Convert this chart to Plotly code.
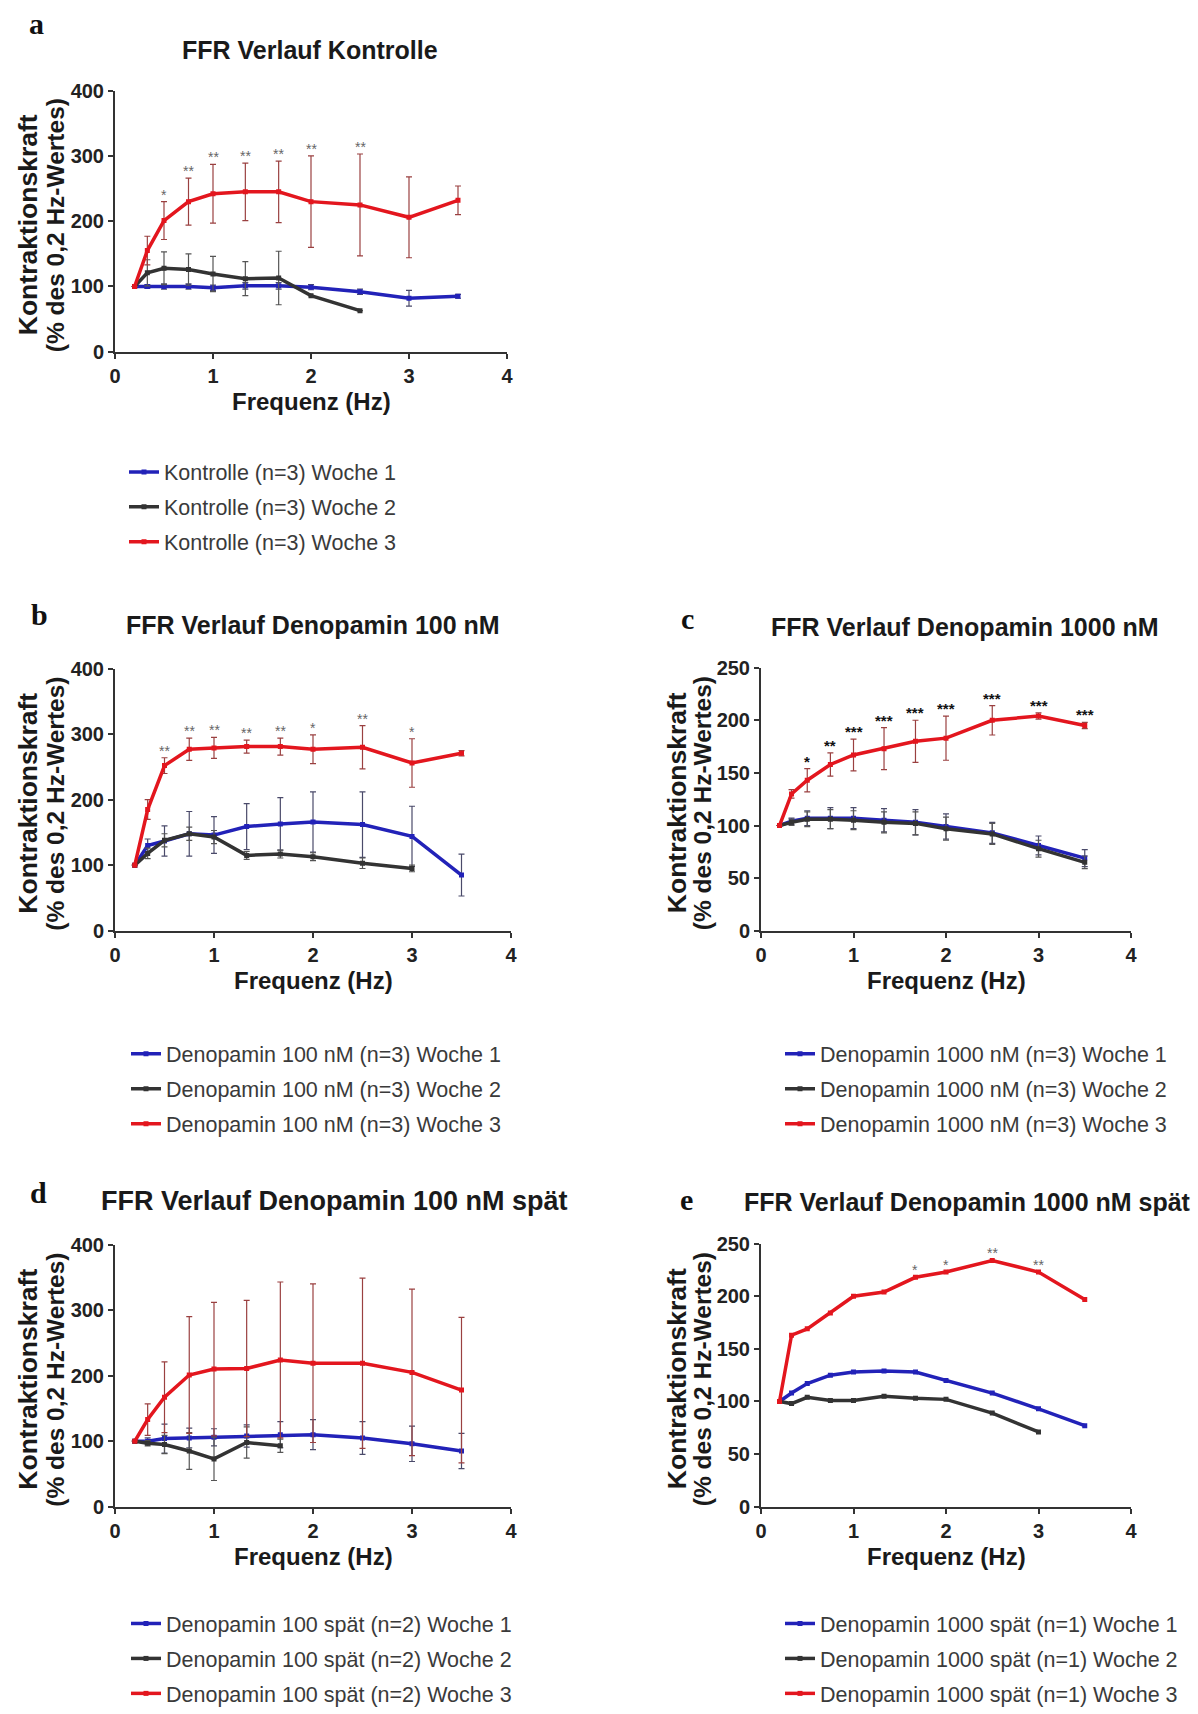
import plotly.graph_objects as go

W, H = 1198, 1714

# ---------------- data ----------------
freq = [0.2, 0.33, 0.5, 0.75, 1.0, 1.33, 1.67, 2.0, 2.5, 3.0, 3.5]
weeks = ["Woche 1", "Woche 2", "Woche 3"]

# a: Kontrolle
a_w1 = [100, 100, 100, 100, 98, 101, 101, 99, 92, 82, 85]
a_w1_err = [0, 3, 4, 4, 4, 5, 5, 4, 4, 12, 3]
a_w2 = [100, 121, 128, 126, 119, 112, 113, 86, 63, None, None]
a_w2_err = [0, 20, 25, 24, 27, 26, 41, 0, 0, None, None]
a_w3 = [100, 155, 201, 230, 242, 245, 245, 230, 225, 206, 232]
a_w3_err = [0, 22, 29, 36, 45, 44, 47, 70, 78, 62, 22]
a_sig = ["", "", "*", "**", "**", "**", "**", "**", "**", "", ""]

# b: Denopamin 100 nM
b_w1 = [100, 130, 137, 148, 146, 159, 163, 166, 162, 144, 85]
b_w1_err = [0, 10, 23, 34, 28, 35, 40, 46, 50, 46, 32]
b_w2 = [100, 118, 138, 148, 143, 115, 117, 113, 103, 95, None]
b_w2_err = [0, 8, 10, 10, 10, 6, 6, 6, 8, 5, None]
b_w3 = [100, 185, 252, 277, 279, 281, 281, 277, 280, 256, 271]
b_w3_err = [0, 15, 12, 17, 16, 10, 13, 22, 33, 37, 4]
b_sig = ["", "", "**", "**", "**", "**", "**", "*", "**", "*", ""]

# c: Denopamin 1000 nM
c_w1 = [100, 104, 107, 107, 107, 105, 103, 99, 93, 81, 69]
c_w1_err = [0, 3, 7, 10, 10, 11, 12, 12, 10, 9, 8]
c_w2 = [100, 103, 106, 106, 105, 103, 102, 97, 92, 78, 65]
c_w2_err = [0, 3, 7, 9, 9, 10, 11, 11, 10, 8, 6]
c_w3 = [100, 130, 143, 158, 167, 173, 180, 183, 200, 204, 195]
c_w3_err = [0, 4, 11, 11, 15, 20, 20, 21, 14, 3, 3]
c_sig = ["", "", "*", "**", "***", "***", "***", "***", "***", "***", "***"]

# d: Denopamin 100 nM spät
d_w1 = [100, 100, 104, 105, 106, 108, 110, 110, 105, 96, 85]
d_w1_err = [0, 5, 22, 15, 13, 17, 20, 23, 25, 27, 27]
d_w2 = [100, 97, 95, 85, 73, 98, 93, None, None, None, None]
d_w2_err = [0, 4, 14, 28, 33, 24, 10, None, None, None, None]
d_w3 = [100, 133, 167, 201, 210, 211, 224, 219, 219, 205, 178]
d_w3_err = [0, 24, 54, 89, 102, 104, 119, 121, 130, 127, 111]
d_sig = [""] * 11

# e: Denopamin 1000 nM spät (n=1, no error bars)
e_w1 = [100, 108, 117, 125, 128, 129, 128, 120, 108, 93, 77]
e_w2 = [100, 98, 104, 101, 101, 105, 103, 102, 89, 71, None]
e_w3 = [100, 163, 169, 184, 200, 204, 218, 223, 234, 223, 197]
e_sig = ["", "", "", "", "", "", "*", "*", "**", "**", ""]

panels = [
    dict(letter="a", title="FFR Verlauf Kontrolle", label="Kontrolle (n=3)",
         series=[(a_w1, a_w1_err), (a_w2, a_w2_err), (a_w3, a_w3_err)], sig=a_sig,
         ymax=400, dtick=100, xpx=(115, 507), ypx=(91, 353),
         letter_pos=(36, 24), title_pos=(310, 50), title_size=25, ytitle_x=(28, 55),
         leg_pos=(124, 453), sigstyle="light"),
    dict(letter="b", title="FFR Verlauf Denopamin 100 nM", label="Denopamin 100 nM (n=3)",
         series=[(b_w1, b_w1_err), (b_w2, b_w2_err), (b_w3, b_w3_err)], sig=b_sig,
         ymax=400, dtick=100, xpx=(115, 511), ypx=(671, 934),
         letter_pos=(39, 617), title_pos=(313, 627), title_size=25, ytitle_x=(28, 56),
         leg_pos=(126, 1037), sigstyle="light"),
    dict(letter="c", title="FFR Verlauf Denopamin 1000 nM", label="Denopamin 1000 nM (n=3)",
         series=[(c_w1, c_w1_err), (c_w2, c_w2_err), (c_w3, c_w3_err)], sig=c_sig,
         ymax=250, dtick=50, xpx=(761, 1131), ypx=(670, 934),
         letter_pos=(687, 621), title_pos=(965, 629), title_size=25, ytitle_x=(677, 702),
         leg_pos=(780, 1037), sigstyle="bold"),
    dict(letter="d", title="FFR Verlauf Denopamin 100 nM spät", label="Denopamin 100 spät (n=2)",
         series=[(d_w1, d_w1_err), (d_w2, d_w2_err), (d_w3, d_w3_err)], sig=d_sig,
         ymax=400, dtick=100, xpx=(115, 511), ypx=(1249, 1512),
         letter_pos=(38, 1197), title_pos=(334, 1205), title_size=27, ytitle_x=(28, 56),
         leg_pos=(126, 1609), sigstyle="light"),
    dict(letter="e", title="FFR Verlauf Denopamin 1000 nM spät", label="Denopamin 1000 spät (n=1)",
         series=[(e_w1, None), (e_w2, None), (e_w3, None)], sig=e_sig,
         ymax=250, dtick=50, xpx=(761, 1131), ypx=(1248, 1512),
         letter_pos=(686, 1204), title_pos=(967, 1206), title_size=25, ytitle_x=(677, 702),
         leg_pos=(780, 1609), sigstyle="light"),
]

colors = ["#2222b8", "#333333", "#e3161e"]
errcolors = ["#4a4a6a", "#555555", "#9a4040"]

FONT = "Liberation Sans, Arial, sans-serif"
SERIF = "Liberation Serif, Times New Roman, serif"


def px_x(p):
    return p / W


def px_y(p):
    return 1 - p / H


fig = go.Figure()
annotations = []
layout = {}

for i, p in enumerate(panels):
    n = "" if i == 0 else str(i + 1)
    xa, ya = "x" + n, "y" + n
    leg = "legend" + n
    for k, (vals, err) in enumerate(p["series"]):
        tr = dict(
            x=freq, y=vals, mode="lines+markers", name=f"{p['label']} {weeks[k]}",
            line=dict(color=colors[k], width=3.5),
            marker=dict(color=colors[k], size=5, symbol="square"),
            xaxis=xa, yaxis=ya, legend=leg, legendgroup=f"{p['letter']}{k}",
            connectgaps=False, hoverinfo="x+y",
        )
        if err is not None:
            tr["error_y"] = dict(type="data", array=err, visible=True,
                                 thickness=1.2, width=3, color=errcolors[k])
        fig.add_trace(go.Scatter(**tr))

    # significance markers above red series
    red_vals, red_err = p["series"][2]
    for j, s in enumerate(p["sig"]):
        if not s:
            continue
        top = red_vals[j] + (red_err[j] if red_err is not None else 0)
        bold = p["sigstyle"] == "bold"
        annotations.append(dict(
            x=freq[j], y=top, xref=xa, yref=ya, text=s, showarrow=False,
            yanchor="bottom", xanchor="center", yshift=-3,
            font=dict(family=FONT, size=15 if bold else 14,
                      color="#111111" if bold else "#666666",
                      weight="bold" if bold else "normal")))

    axis_common = dict(showline=True, linecolor="#333333", linewidth=2,
                       ticks="outside", ticklen=5, tickwidth=2, tickcolor="#333333",
                       showgrid=False, zeroline=False, automargin=False,
                       tickfont=dict(family=FONT, size=20, color="#222222", weight="bold"))
    layout["xaxis" + n] = dict(axis_common, domain=[px_x(p["xpx"][0]), px_x(p["xpx"][1])],
                               range=[0, 4], tickvals=[0, 1, 2, 3, 4], anchor=ya)
    layout["yaxis" + n] = dict(axis_common, domain=[px_y(p["ypx"][1]), px_y(p["ypx"][0])],
                               range=[0, p["ymax"]], dtick=p["dtick"], tick0=0, anchor=xa)

    layout[leg] = dict(x=px_x(p["leg_pos"][0]), y=px_y(p["leg_pos"][1]),
                       xanchor="left", yanchor="top", bgcolor="rgba(0,0,0,0)",
                       font=dict(family=FONT, size=21.5, color="#3a3a3a"),
                       tracegroupgap=4, traceorder="grouped", itemwidth=30)

    # panel letter
    annotations.append(dict(x=px_x(p["letter_pos"][0]), y=px_y(p["letter_pos"][1]),
                            xref="paper", yref="paper", text=p["letter"], showarrow=False,
                            xanchor="center", yanchor="middle",
                            font=dict(family=SERIF, size=30, color="#111111", weight="bold")))
    # panel title
    annotations.append(dict(x=px_x(p["title_pos"][0]), y=px_y(p["title_pos"][1]),
                            xref="paper", yref="paper", text=p["title"], showarrow=False,
                            xanchor="center", yanchor="middle",
                            font=dict(family=FONT, size=p["title_size"], color="#1a1a1a",
                                      weight="bold")))
    # x axis title
    xc = (p["xpx"][0] + p["xpx"][1]) / 2
    annotations.append(dict(x=px_x(xc), y=px_y(p["ypx"][1] + 50),
                            xref="paper", yref="paper", text="Frequenz (Hz)", showarrow=False,
                            xanchor="center", yanchor="middle",
                            font=dict(family=FONT, size=24, color="#1a1a1a", weight="bold")))
    # y axis title, two lines
    yc = (p["ypx"][0] + p["ypx"][1]) / 2 + 4
    for txt, xx, fs in [("Kontraktionskraft", p["ytitle_x"][0], 26.5),
                        ("(% des 0,2 Hz-Wertes)", p["ytitle_x"][1], 24.5)]:
        annotations.append(dict(x=px_x(xx), y=px_y(yc), xref="paper", yref="paper",
                                text=txt, showarrow=False, textangle=-90,
                                xanchor="center", yanchor="middle",
                                font=dict(family=FONT, size=fs, color="#1a1a1a", weight="bold")))

fig.update_layout(width=W, height=H, margin=dict(l=0, r=0, t=0, b=0),
                  paper_bgcolor="white", plot_bgcolor="white",
                  showlegend=True, annotations=annotations, **layout)

fig.write_html("out.html")
